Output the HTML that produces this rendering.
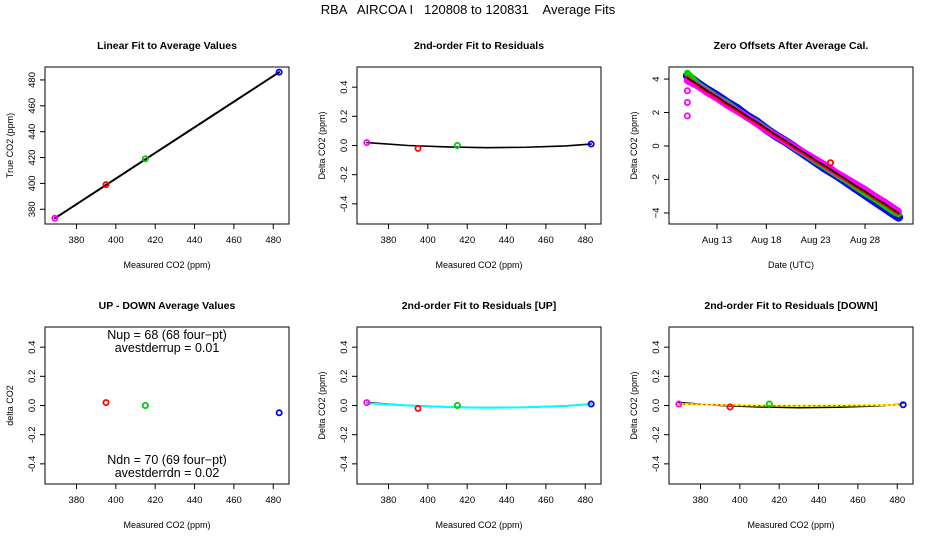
<!DOCTYPE html>
<html><head><meta charset="utf-8">
<style>
html,body{margin:0;padding:0;background:#fff;}
svg{display:block;font-family:"Liberation Sans",Arial,sans-serif;}
</style></head>
<body>
<svg id="c" width="936" height="540" viewBox="0 0 936 540" xmlns="http://www.w3.org/2000/svg">
<text x="468" y="14" text-anchor="middle" font-size="13" style="white-space:pre" xml:space="preserve">RBA   AIRCOA I   120808 to 120831    Average Fits</text>
</svg>
<script>
// ---- data ----
const calX = [369, 395, 415, 483];
const calTrue = [373, 399, 419, 486];
const calColors = ['#ff00ff', '#ff0000', '#00cc00', '#0000ff'];
const residAll = [0.02, -0.02, 0.0, 0.01];
const fitX = [369, 390, 410, 430, 450, 470, 483];
const fitAll = [0.02, 0.0, -0.01, -0.015, -0.012, -0.003, 0.01];
const udX = [395, 415, 483];
const udVals = [0.02, 0.0, -0.05];
const udColors = ['#ff0000', '#00cc00', '#0000ff'];
const residUp = [0.02, -0.02, 0.0, 0.01];
const fitUp = [0.015, 0.0, -0.01, -0.015, -0.012, -0.003, 0.01];
const residDn = [0.01, -0.01, 0.01, 0.005];
const fitDn = [0.01, 0.005, 0.0, -0.002, 0.0, 0.002, 0.005];
const xTicks = [380, 400, 420, 440, 460, 480];
const yTicksCal = [380, 400, 420, 440, 460, 480];
const yTicksRes = [-0.4, -0.2, 0.0, 0.2, 0.4];
const dayX = [10, 11, 12, 13, 14, 15, 16, 17, 18, 19, 20, 21, 22, 23, 24, 25, 26, 27, 28, 29, 30, 31, 31.4];
const zeroBlack = [4.05, 3.7, 3.3, 2.95, 2.55, 2.2, 1.8, 1.45, 1.05, 0.65, 0.3, -0.1, -0.45, -0.85, -1.2, -1.6, -1.95, -2.35, -2.7, -3.1, -3.45, -3.85, -4.0];
const zeroBlue = [4.2, 3.75, 3.35, 3.0, 2.6, 2.25, 1.8, 1.45, 1.0, 0.6, 0.25, -0.15, -0.55, -0.95, -1.35, -1.7, -2.1, -2.5, -2.9, -3.3, -3.7, -4.1, -4.25];
const zeroGreen = [4.35, 3.7, 3.3, 2.9, 2.55, 2.15, 1.75, 1.4, 1.0, 0.6, 0.25, -0.15, -0.5, -0.9, -1.25, -1.65, -2.0, -2.4, -2.8, -3.15, -3.55, -3.95, -4.05];
const zeroRed = [4.1, 3.65, 3.25, 2.9, 2.5, 2.15, 1.75, 1.4, 1.0, 0.6, 0.25, -0.15, -0.5, -0.9, -1.25, -1.6, -2.0, -2.4, -2.75, -3.15, -3.5, -3.9, -4.05];
const zeroMag = [3.9, 3.6, 3.2, 2.85, 2.45, 2.1, 1.75, 1.35, 0.95, 0.6, 0.25, -0.1, -0.45, -0.8, -1.15, -1.55, -1.9, -2.25, -2.6, -3.0, -3.35, -3.75, -3.9];
const outDay = [10.0, 10.0, 10.0, 24.5];
const outVal = [3.3, 2.6, 1.8, -1.0];
const outColors = ['#ff00ff', '#ff00ff', '#ff00ff', '#ff0000'];
const dateTicks = [13, 18, 23, 28];
const dateLabels = ['Aug 13', 'Aug 18', 'Aug 23', 'Aug 28'];

const svg = document.getElementById('c');
const NS = 'http://www.w3.org/2000/svg';
function mk(tag, attrs, parent) {
  const e = document.createElementNS(NS, tag);
  for (const k in attrs) e.setAttribute(k, attrs[k]);
  (parent || svg).appendChild(e);
  return e;
}
function lin(d0, d1, r0, r1) { return v => r0 + (v - d0) / (d1 - d0) * (r1 - r0); }

function panel(name, left, top, title, xlab, ylab, xdom, ydom, xt, xtl, yt, ytl) {
  const g = mk('g', {});
  
  
  const W = 244, H = 157;
  const sx = lin(xdom[0], xdom[1], left, left + W);
  const sy = lin(ydom[0], ydom[1], top + H, top);
  const box = mk('rect', {x: left, y: top, width: W, height: H, fill: 'none', stroke: '#000', 'stroke-width': 1}, g);
  
  
  const t = mk('text', {x: left + W / 2, y: top - 18, 'text-anchor': 'middle', 'font-size': 10.5, 'font-weight': 'bold'}, g);
  t.textContent = title;
  
  
  const xl = mk('text', {x: left + W / 2, y: top + H + 44, 'text-anchor': 'middle', 'font-size': 9}, g);
  xl.textContent = xlab;
  
  
  const yl = mk('text', {x: 0, y: 0, 'text-anchor': 'middle', 'font-size': 9, transform: `translate(${left - 32},${top + H / 2}) rotate(-90)`}, g);
  yl.textContent = ylab;
  
  
  xt.forEach((v, i) => {
    const x = sx(v);
    mk('line', {x1: x, x2: x, y1: top + H, y2: top + H + 5, stroke: '#000'}, g);
    const tl = mk('text', {x: x, y: top + H + 19, 'text-anchor': 'middle', 'font-size': 9.5}, g);
    tl.textContent = xtl[i];
    
    
  });
  yt.forEach((v, i) => {
    const y = sy(v);
    mk('line', {x1: left, x2: left - 5, y1: y, y2: y, stroke: '#000'}, g);
    const tl = mk('text', {x: 0, y: 0, 'text-anchor': 'middle', 'font-size': 9.5, transform: `translate(${left - 10},${y}) rotate(-90)`}, g);
    tl.textContent = ytl[i];
    
    
  });
  return {g, sx, sy};
}
function circ(p, x, y, col, name) {
  const c = mk('circle', {cx: p.sx(x), cy: p.sy(y), r: 2.6, fill: 'none', stroke: col, 'stroke-width': 1.8}, p.g);
  
  
}
function pline(p, xs, ys, col, w, name, dash) {
  const pts = xs.map((x, i) => p.sx(x) + ',' + p.sy(ys[i])).join(' ');
  const l = mk('polyline', {points: pts, fill: 'none', stroke: col, 'stroke-width': w, 'stroke-linejoin': 'round', 'stroke-linecap': 'round'}, p.g);
  if (dash) l.setAttribute('stroke-dasharray', dash);
  
  
}
const xdom = [364, 488];
const resLab = yTicksRes.map(v => v.toFixed(1));
const xLab = xTicks.map(String);

// Panel 1
const p1 = panel('linear-fit-panel', 45, 67, 'Linear Fit to Average Values', 'Measured CO2 (ppm)', 'True CO2 (ppm)', xdom, [368.6, 490], xTicks, xLab, yTicksCal, yTicksCal.map(String));
pline(p1, [calX[0], calX[3]], [calTrue[0], calTrue[3]], '#000', 2, 'linear-fit-line');
calX.forEach((x, i) => circ(p1, x, calTrue[i], calColors[i], 'cal-point'));

// Panel 2
const p2 = panel('residual-fit-panel', 357, 67, '2nd-order Fit to Residuals', 'Measured CO2 (ppm)', 'Delta CO2 (ppm)', xdom, [-0.538, 0.538], xTicks, xLab, yTicksRes, resLab);
pline(p2, fitX, fitAll, '#000', 1.6, 'quadratic-fit-line');
calX.forEach((x, i) => circ(p2, x, residAll[i], calColors[i], 'residual-point'));

// Panel 3
const p3 = panel('zero-offsets-panel', 669, 67, 'Zero Offsets After Average Cal.', 'Date (UTC)', 'Delta CO2 (ppm)', [8.14, 32.86], [-4.66, 4.72], dateTicks, dateLabels, [-4, -2, 0, 2, 4], ['\u22124', '\u22122', '0', '2', '4']);
pline(p3, dayX, zeroBlue, '#0000ff', 9, 'zero-series-blue');
pline(p3, dayX, zeroGreen, '#00cc00', 7, 'zero-series-green');
pline(p3, dayX, zeroMag, '#ff00ff', 7, 'zero-series-magenta', '3 2');
pline(p3, dayX, zeroRed, '#ff0000', 3, 'zero-series-red');
pline(p3, dayX, zeroBlack, '#000', 1.5, 'zero-series-black');
outDay.forEach((d, i) => circ(p3, d, outVal[i], outColors[i], 'zero-outlier'));

// Panel 4
const p4 = panel('up-down-panel', 45, 327, 'UP - DOWN Average Values', 'Measured CO2 (ppm)', 'delta CO2', xdom, [-0.538, 0.538], xTicks, xLab, yTicksRes, resLab);
udX.forEach((x, i) => circ(p4, x, udVals[i], udColors[i], 'up-down-point'));
[['Nup = 68 (68 four\u2212pt)', 339], ['avestderrup =  0.01', 352], ['Ndn = 70 (69 four\u2212pt)', 464], ['avestderrdn =  0.02', 477]].forEach(a => {
  const t = mk('text', {x: 167, y: a[1], 'text-anchor': 'middle', 'font-size': 12.5}, p4.g);
  t.textContent = a[0];
  
  
});

// Panel 5
const p5 = panel('residual-up-panel', 357, 327, '2nd-order Fit to Residuals [UP]', 'Measured CO2 (ppm)', 'Delta CO2 (ppm)', xdom, [-0.538, 0.538], xTicks, xLab, yTicksRes, resLab);
pline(p5, fitX, fitAll, '#000', 1.6, 'fit-line-all');
pline(p5, fitX, fitUp, '#00ffff', 2, 'fit-line-up');
calX.forEach((x, i) => circ(p5, x, residUp[i], calColors[i], 'residual-up-point'));

// Panel 6
const p6 = panel('residual-down-panel', 669, 327, '2nd-order Fit to Residuals [DOWN]', 'Measured CO2 (ppm)', 'Delta CO2 (ppm)', xdom, [-0.538, 0.538], xTicks, xLab, yTicksRes, resLab);
pline(p6, fitX, fitAll, '#000', 1.6, 'fit-line-all');
pline(p6, fitX, fitDn, '#ffff00', 2, 'fit-line-down');
pline(p6, fitX, fitDn, '#ff0000', 1, 'fit-line-down-dots', '1 4');
calX.forEach((x, i) => circ(p6, x, residDn[i], calColors[i], 'residual-down-point'));
</script>
</body></html>
